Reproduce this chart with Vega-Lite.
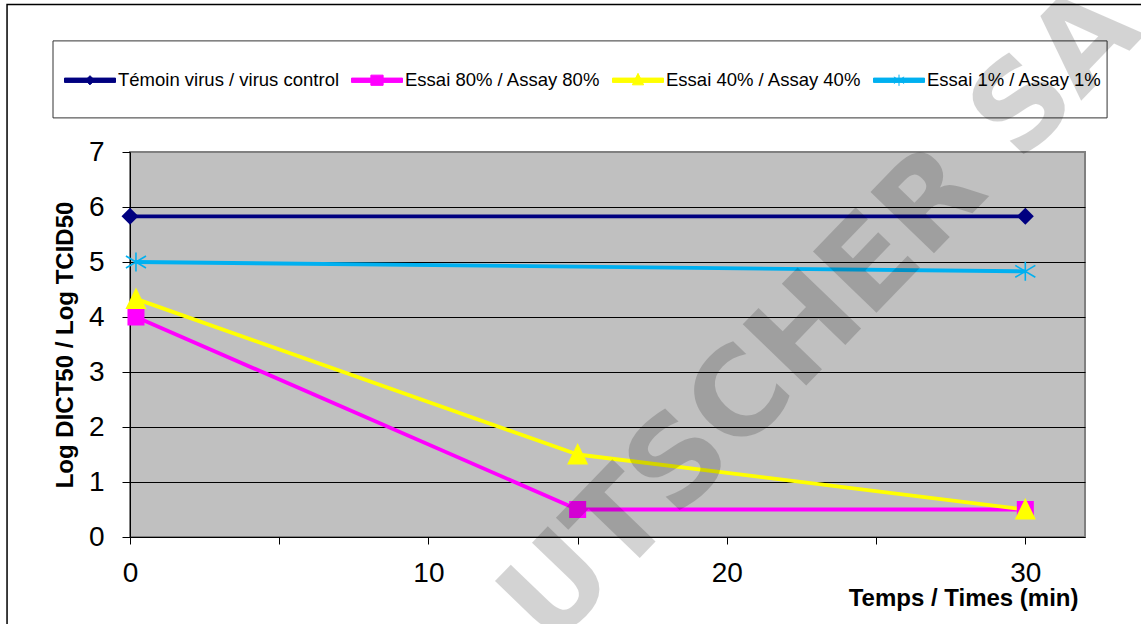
{
  "$schema": "https://vega.github.io/schema/vega-lite/v6.json",
  "width": 955,
  "height": 385,
  "autosize": {"type": "none"},
  "padding": {"left": 130, "top": 152, "right": 56, "bottom": 87},
  "background": "white",
  "config": {
    "font": "Liberation Sans",
    "view": {"fill": "#C0C0C0", "stroke": "#808080", "strokeWidth": 2}
  },
  "datasets": {
    "series": [
      {"serie": "Témoin virus / virus control", "t": 0, "v": 5.83},
      {"serie": "Témoin virus / virus control", "t": 30, "v": 5.83},
      {"serie": "Essai 80% / Assay 80%", "t": 0.2, "v": 4.0},
      {"serie": "Essai 80% / Assay 80%", "t": 15, "v": 0.5},
      {"serie": "Essai 80% / Assay 80%", "t": 30, "v": 0.5},
      {"serie": "Essai 40% / Assay 40%", "t": 0.2, "v": 4.33},
      {"serie": "Essai 40% / Assay 40%", "t": 15, "v": 1.5},
      {"serie": "Essai 40% / Assay 40%", "t": 30, "v": 0.5},
      {"serie": "Essai 1% / Assay 1%", "t": 0.2, "v": 5.0},
      {"serie": "Essai 1% / Assay 1%", "t": 30, "v": 4.83}
    ]
  },
  "layer": [
    {
      "data": {"values": [{}]},
      "mark": {"type": "rect", "fill": "transparent", "stroke": "black", "strokeWidth": 1.5, "clip": false},
      "encoding": {
        "x": {"datum": -4.12, "type": "quantitative"},
        "x2": {"datum": 40},
        "y": {"datum": 9.68, "type": "quantitative"},
        "y2": {"datum": -5}
      }
    },
    {
      "data": {"values": [{}]},
      "mark": {"type": "rect", "fill": "white", "stroke": "#333333", "strokeWidth": 1, "clip": false},
      "encoding": {
        "x": {"datum": -2.58, "type": "quantitative"},
        "x2": {"datum": 32.74},
        "y": {"datum": 9.02, "type": "quantitative"},
        "y2": {"datum": 7.62}
      }
    },
    {
      "data": {"name": "series"},
      "mark": {"type": "line", "strokeWidth": 3.8, "strokeJoin": "round"},
      "encoding": {
        "x": {
          "field": "t",
          "type": "quantitative",
          "scale": {"domain": [0, 32], "nice": false, "zero": false},
          "axis": {
            "values": [0, 5, 10, 15, 20, 25, 30],
            "labelExpr": "datum.value % 10 === 0 ? datum.label : ''",
            "format": "d",
            "grid": false,
            "domainColor": "black",
            "tickColor": "black",
            "tickSize": 7,
            "labelFontSize": 28,
            "labelColor": "black",
            "labelPadding": 15,
            "labelFlush": false,
            "labelOverlap": false,
            "title": "Temps / Times (min)",
            "titleFontSize": 24,
            "titleFontWeight": "bold",
            "titleColor": "black",
            "titleAnchor": "end",
            "titleAlign": "right",
            "titleBaseline": "middle",
            "titleX": 948,
            "titleY": 61
          }
        },
        "y": {
          "field": "v",
          "type": "quantitative",
          "scale": {"domain": [0, 7], "nice": false},
          "axis": {
            "values": [0, 1, 2, 3, 4, 5, 6, 7],
            "format": "d",
            "grid": true,
            "gridColor": {"condition": {"test": "datum.value === 7 || datum.value === 0", "value": "#808080"}, "value": "black"},
            "gridWidth": 1,
            "domainColor": "black",
            "tickColor": "black",
            "tickSize": 8,
            "labelFontSize": 28,
            "labelColor": "black",
            "labelPadding": 18,
            "title": "Log DICT50 / Log TCID50",
            "titleFontSize": 24,
            "titleFontWeight": "bold",
            "titleColor": "black",
            "titleAngle": -90,
            "titleAlign": "center",
            "titleBaseline": "middle",
            "titleX": -65,
            "titleY": 192.5
          }
        },
        "color": {
          "field": "serie",
          "type": "nominal",
          "sort": null,
          "scale": {
            "domain": ["Témoin virus / virus control", "Essai 80% / Assay 80%", "Essai 40% / Assay 40%", "Essai 1% / Assay 1%"],
            "range": ["#000080", "#FF00FF", "#FFFF00", "#00B0F0"]
          },
          "legend": {
            "title": null,
            "orient": "none",
            "legendX": -78,
            "legendY": -110,
            "direction": "horizontal",
            "columns": 4,
            "columnPadding": 9,
            "padding": 12,
            "strokeColor": null,
            "symbolSize": 2601,
            "symbolStrokeWidth": 1,
            "labelFontSize": 18.5,
            "labelColor": "black",
            "labelOffset": 2,
            "labelLimit": 500,
            "encode": {
              "symbols": {
                "update": {
                  "shape": {"signal": "datum.value === 'Témoin virus / virus control' ? 'M-1,-0.085H1V0.085H-1ZM0,-0.18L0.18,0L0,0.18L-0.18,0Z' : datum.value === 'Essai 80% / Assay 80%' ? 'M-1,-0.085H1V0.085H-1ZM-0.24,-0.2H0.24V0.2H-0.24Z' : datum.value === 'Essai 40% / Assay 40%' ? 'M-1,-0.085H1V0.085H-1ZM0,-0.27L0.22,0.18H-0.22Z' : 'M-1,-0.085H1V0.085H-1ZM0,-0.22V0.22M-0.2,-0.13L0.2,0.13M-0.2,0.13L0.2,-0.13'"},
                  "fill": {"scale": "color", "field": "value"},
                  "stroke": {"scale": "color", "field": "value"},
                  "strokeWidth": {"value": 1},
                  "size": {"value": 2601},
                  "opacity": {"value": 1}
                }
              }
            }
          }
        },
        "order": {"field": "t", "type": "quantitative"}
      }
    },
    {
      "data": {"name": "series"},
      "transform": [{"filter": "datum.serie === 'Témoin virus / virus control'"}],
      "mark": {"type": "point", "shape": "diamond", "filled": true, "size": 289, "color": "#000080", "opacity": 1},
      "encoding": {
        "x": {"field": "t", "type": "quantitative"},
        "y": {"field": "v", "type": "quantitative"}
      }
    },
    {
      "data": {"name": "series"},
      "transform": [{"filter": "datum.serie === 'Essai 80% / Assay 80%'"}],
      "mark": {"type": "point", "shape": "square", "filled": true, "size": 289, "color": "#FF00FF", "opacity": 1},
      "encoding": {
        "x": {"field": "t", "type": "quantitative"},
        "y": {"field": "v", "type": "quantitative"}
      }
    },
    {
      "data": {"name": "series"},
      "transform": [{"filter": "datum.serie === 'Essai 40% / Assay 40%'"}],
      "mark": {"type": "point", "shape": "M0,-1.35L1.24,1.18H-1.24Z", "filled": true, "size": 289, "color": "#FFFF00", "opacity": 1},
      "encoding": {
        "x": {"field": "t", "type": "quantitative"},
        "y": {"field": "v", "type": "quantitative"}
      }
    },
    {
      "data": {"name": "series"},
      "transform": [{"filter": "datum.serie === 'Essai 1% / Assay 1%'"}],
      "mark": {"type": "point", "shape": "M0,-1.12V1.12M-1.18,-0.7L1.18,0.7M-1.18,0.7L1.18,-0.7", "filled": false, "size": 289, "stroke": "#00B0F0", "strokeWidth": 1.6, "opacity": 1},
      "encoding": {
        "x": {"field": "t", "type": "quantitative"},
        "y": {"field": "v", "type": "quantitative"}
      }
    },
    {
      "data": {"values": [{}]},
      "mark": {
        "type": "text",
        "text": "UTSCHER SA",
        "font": "DejaVu Sans",
        "fontWeight": "bold",
        "fontSize": 121,
        "angle": -46,
        "align": "center",
        "baseline": "middle",
        "fill": "black",
        "opacity": 0.17,
        "clip": false
      },
      "encoding": {
        "x": {"datum": 23.2, "type": "quantitative"},
        "y": {"datum": 4.0, "type": "quantitative"}
      }
    }
  ]
}
